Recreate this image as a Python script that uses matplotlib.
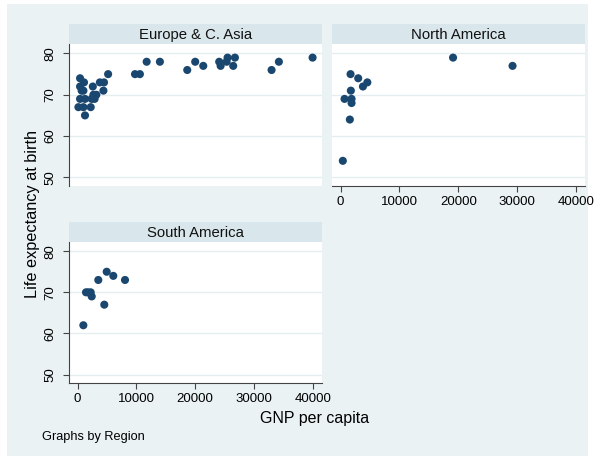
import matplotlib.pyplot as plt
from matplotlib.patches import Rectangle

plt.rcParams['font.family'] = ['Liberation Sans', 'DejaVu Sans']

# life expectancy vs GNP per capita, one panel per region
regions = ['Europe & C. Asia', 'North America', 'South America']

eur_gnp = [430, 1100, 3800, 4500, 5200, 430, 2600, 4400, 700, 1000,
           2700, 3200, 430, 1270, 2400, 2900, 150, 1000, 2240, 1270,
           9770, 10600, 11750, 14000, 18650, 20000, 21370, 24080, 24320,
           25500, 25340, 26750, 26460, 32980, 34220, 39950]
eur_lexp = [74, 73, 73, 73, 75, 72, 72, 71, 71, 71,
            70, 70, 69, 69, 69, 69, 67, 67, 67, 65,
            75, 75, 78, 78, 76, 78, 77, 78, 77,
            79, 78, 79, 77, 76, 78, 79]

nam_gnp = [19100, 29200, 1700, 3000, 3800, 4550, 1750, 680, 1870, 1870, 1580, 390]
nam_lexp = [79, 77, 75, 74, 72, 73, 71, 69, 69, 68, 64, 54]

sam_gnp = [4960, 6080, 3530, 8070, 1440, 1800, 2240, 2410, 4550, 990]
sam_lexp = [75, 74, 73, 73, 70, 70, 70, 69, 67, 62]

xticks = [0, 10000, 20000, 30000, 40000]
yticks = [50, 60, 70, 80]

W, H = 598, 459
NAVY = '#1a476f'
BG = '#eaf2f3'
STRIP = '#d9e6eb'
GRID = '#e4edf0'


def box(x0, y0, x1, y1):
    # pixel box (top-left origin) -> figure fraction rect
    return [x0 / W, 1 - y1 / H, (x1 - x0) / W, (y1 - y0) / H]


fig = plt.figure(figsize=(W / 100, H / 100), dpi=100)
fig.patch.set_facecolor('white')
fig.add_artist(Rectangle((6.7 / W, 1 - 456 / H), (588 - 6.7) / W, (456 - 4) / H,
                         transform=fig.transFigure, facecolor=BG,
                         edgecolor='none', zorder=-10))

panels = [
    (eur_gnp, eur_lexp, (68.7, 44, 321.7, 186), True, False),
    (nam_gnp, nam_lexp, (331.7, 44, 585, 186), False, True),
    (sam_gnp, sam_lexp, (68.7, 241.7, 321.7, 383.3), True, True),
]

for name, (gx, ly, (x0, y0, x1, y1), show_y, show_x) in zip(regions, panels):
    strip = fig.add_axes(box(x0, y0 - 20, x1, y0))
    strip.set_facecolor(STRIP)
    strip.set_xticks([])
    strip.set_yticks([])
    for s in strip.spines.values():
        s.set_visible(False)
    strip.text(0.5, 0.45, name, ha='center', va='center', fontsize=10.7,
               color='#111111', transform=strip.transAxes)

    ax = fig.add_axes(box(x0, y0, x1, y1))
    ax.set_facecolor('white')
    ax.scatter(gx, ly, s=34, color=NAVY, edgecolors='none', zorder=3)
    ax.set_xlim(-1500, 41500)
    ax.set_ylim(47.9, 82.3)
    ax.set_yticks(yticks)
    ax.set_xticks(xticks)
    ax.grid(axis='y', color=GRID, linewidth=1)
    ax.set_axisbelow(True)
    for s in ['top', 'right']:
        ax.spines[s].set_visible(False)
    ax.spines['left'].set_visible(show_y)
    ax.spines['bottom'].set_visible(show_x)
    ax.spines['left'].set_color('#444444')
    ax.spines['bottom'].set_color('#444444')
    ax.tick_params(axis='y', left=show_y, labelleft=show_y, length=4,
                   color='#444444', labelsize=9.5, pad=5)
    ax.tick_params(axis='x', bottom=show_x, labelbottom=show_x, length=4,
                   color='#444444', labelsize=9.5, pad=3)
    if show_y:
        for lab in ax.get_yticklabels():
            lab.set_rotation(90)
            lab.set_va('center')

fig.text(33 / W, 1 - 214 / H, 'Life expectancy at birth', rotation=90,
         ha='center', va='center', fontsize=11.7)
fig.text(315 / W, 1 - 419 / H, 'GNP per capita', ha='center', va='center',
         fontsize=11.5)
fig.text(42 / W, 1 - 437 / H, 'Graphs by Region', ha='left', va='center',
         fontsize=9.2)

fig.savefig('out.png', dpi=100)
